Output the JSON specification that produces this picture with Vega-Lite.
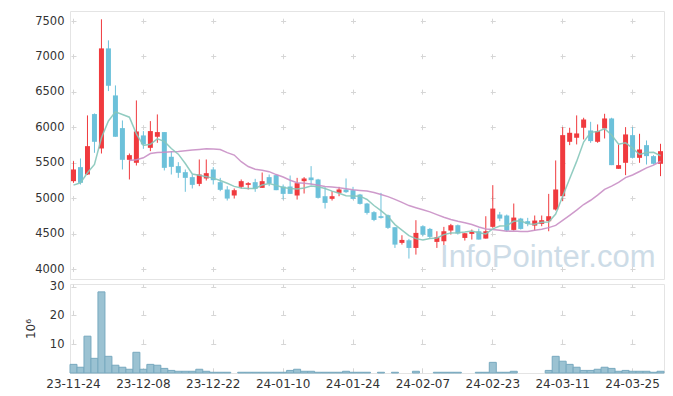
{
  "$schema": "https://vega.github.io/schema/vega-lite/v6.json",
  "padding": {"left": 23, "top": 10, "right": 10, "bottom": 5},
  "spacing": 0,
  "config": {
    "font": "DejaVu Sans",
    "view": {"stroke": "#e4e4e4"},
    "axis": {"labelFont": "DejaVu Sans", "labelColor": "#333333", "domain": false, "ticks": false, "gridColor": "#d6d6d6", "gridWidth": 1}
  },
  "datasets": {
    "d": [
      {"date":"23-11-24","open":5242,"high":5524,"low":5219,"close":5407,"vol":3.0,"ma5":5186,"ma20":null},
      {"date":"23-11-27","open":5440,"high":5562,"low":5195,"close":5219,"vol":2.0,"ma5":5219,"ma20":null},
      {"date":"23-11-28","open":5336,"high":6169,"low":5330,"close":5736,"vol":12.8,"ma5":5360,"ma20":null},
      {"date":"23-11-29","open":6188,"high":6197,"low":5642,"close":5797,"vol":5.1,"ma5":5477,"ma20":null},
      {"date":"23-11-30","open":5703,"high":7524,"low":5632,"close":7114,"vol":28.2,"ma5":5855,"ma20":null},
      {"date":"23-12-01","open":7114,"high":7227,"low":6512,"close":6587,"vol":5.8,"ma5":6091,"ma20":null},
      {"date":"23-12-04","open":6451,"high":6592,"low":5868,"close":5868,"vol":2.7,"ma5":6220,"ma20":null},
      {"date":"23-12-05","open":5990,"high":6098,"low":5407,"close":5543,"vol":2.0,"ma5":6182,"ma20":null},
      {"date":"23-12-06","open":5543,"high":5632,"low":5266,"close":5609,"vol":1.3,"ma5":6144,"ma20":5534},
      {"date":"23-12-07","open":5501,"high":6380,"low":5463,"close":5943,"vol":7.2,"ma5":5910,"ma20":5543},
      {"date":"23-12-08","open":5887,"high":5948,"low":5698,"close":5760,"vol":1.3,"ma5":5745,"ma20":5571},
      {"date":"23-12-11","open":5712,"high":6089,"low":5665,"close":5948,"vol":3.0,"ma5":5761,"ma20":5632},
      {"date":"23-12-12","open":5868,"high":6183,"low":5783,"close":5934,"vol":2.7,"ma5":5839,"ma20":5647},
      {"date":"23-12-13","open":5934,"high":5934,"low":5393,"close":5430,"vol":1.6,"ma5":5803,"ma20":5651},
      {"date":"23-12-14","open":5586,"high":5665,"low":5336,"close":5444,"vol":0.9,"ma5":5703,"ma20":5656},
      {"date":"23-12-15","open":5454,"high":5510,"low":5289,"close":5360,"vol":0.6,"ma5":5623,"ma20":5661},
      {"date":"23-12-18","open":5369,"high":5407,"low":5092,"close":5289,"vol":0.6,"ma5":5491,"ma20":5670},
      {"date":"23-12-19","open":5299,"high":5336,"low":5139,"close":5190,"vol":0.6,"ma5":5343,"ma20":5680},
      {"date":"23-12-20","open":5204,"high":5548,"low":5172,"close":5336,"vol":1.3,"ma5":5324,"ma20":5689},
      {"date":"23-12-21","open":5280,"high":5548,"low":5251,"close":5355,"vol":0.6,"ma5":5306,"ma20":5700},
      {"date":"23-12-22","open":5407,"high":5440,"low":5195,"close":5256,"vol":0.25,"ma5":5285,"ma20":5695},
      {"date":"23-12-26","open":5228,"high":5289,"low":5101,"close":5120,"vol":0.25,"ma5":5251,"ma20":5688},
      {"date":"23-12-27","open":5125,"high":5172,"low":4969,"close":4997,"vol":0.25,"ma5":5213,"ma20":5644},
      {"date":"23-12-28","open":5040,"high":5139,"low":4997,"close":5115,"vol":0,"ma5":5169,"ma20":5610},
      {"date":"24-01-02","open":5162,"high":5266,"low":5139,"close":5242,"vol":0.25,"ma5":5146,"ma20":5516},
      {"date":"24-01-03","open":5190,"high":5228,"low":5125,"close":5214,"vol":0.25,"ma5":5138,"ma20":5448},
      {"date":"24-01-04","open":5228,"high":5275,"low":5092,"close":5134,"vol":0.25,"ma5":5140,"ma20":5411},
      {"date":"24-01-05","open":5148,"high":5364,"low":5148,"close":5242,"vol":0.25,"ma5":5189,"ma20":5396},
      {"date":"24-01-08","open":5299,"high":5336,"low":5172,"close":5209,"vol":0.25,"ma5":5208,"ma20":5376},
      {"date":"24-01-09","open":5327,"high":5336,"low":5115,"close":5115,"vol":0.25,"ma5":5183,"ma20":5335},
      {"date":"24-01-10","open":5167,"high":5195,"low":4983,"close":5063,"vol":0.25,"ma5":5153,"ma20":5300},
      {"date":"24-01-11","open":5167,"high":5322,"low":5063,"close":5063,"vol":0.9,"ma5":5138,"ma20":5255},
      {"date":"24-01-12","open":5040,"high":5289,"low":4983,"close":5214,"vol":1.3,"ma5":5133,"ma20":5219},
      {"date":"24-01-15","open":5242,"high":5299,"low":5068,"close":5280,"vol":0.6,"ma5":5147,"ma20":5212},
      {"date":"24-01-16","open":5294,"high":5454,"low":5186,"close":5256,"vol":0.6,"ma5":5175,"ma20":5203},
      {"date":"24-01-17","open":5266,"high":5275,"low":4997,"close":5007,"vol":0.25,"ma5":5164,"ma20":5185},
      {"date":"24-01-18","open":5030,"high":5157,"low":4856,"close":4936,"vol":0.25,"ma5":5139,"ma20":5167},
      {"date":"24-01-19","open":4993,"high":5101,"low":4969,"close":5030,"vol":0.25,"ma5":5102,"ma20":5159},
      {"date":"24-01-22","open":5077,"high":5162,"low":5030,"close":5125,"vol":0.25,"ma5":5071,"ma20":5149},
      {"date":"24-01-23","open":5125,"high":5280,"low":5077,"close":5087,"vol":0.6,"ma5":5037,"ma20":5135},
      {"date":"24-01-24","open":5115,"high":5162,"low":4983,"close":4993,"vol":0.25,"ma5":5034,"ma20":5122},
      {"date":"24-01-25","open":5054,"high":5063,"low":4913,"close":4922,"vol":0.25,"ma5":5031,"ma20":5112},
      {"date":"24-01-26","open":4927,"high":4936,"low":4772,"close":4795,"vol":0.25,"ma5":4984,"ma20":5102},
      {"date":"24-01-29","open":4805,"high":4819,"low":4678,"close":4696,"vol":0,"ma5":4899,"ma20":5081},
      {"date":"24-01-30","open":4748,"high":5077,"low":4715,"close":4725,"vol":0.25,"ma5":4826,"ma20":5055},
      {"date":"24-01-31","open":4762,"high":4772,"low":4569,"close":4584,"vol":0,"ma5":4744,"ma20":5024},
      {"date":"24-02-01","open":4593,"high":4593,"low":4301,"close":4348,"vol":0.25,"ma5":4630,"ma20":4985},
      {"date":"24-02-02","open":4372,"high":4480,"low":4348,"close":4414,"vol":0,"ma5":4553,"ma20":4943},
      {"date":"24-02-05","open":4409,"high":4428,"low":4151,"close":4301,"vol":0,"ma5":4474,"ma20":4898},
      {"date":"24-02-06","open":4301,"high":4692,"low":4207,"close":4513,"vol":0.6,"ma5":4432,"ma20":4868},
      {"date":"24-02-07","open":4607,"high":4621,"low":4466,"close":4489,"vol":0,"ma5":4413,"ma20":4839},
      {"date":"24-02-08","open":4569,"high":4583,"low":4433,"close":4457,"vol":0,"ma5":4435,"ma20":4809},
      {"date":"24-02-13","open":4386,"high":4536,"low":4301,"close":4452,"vol":0.25,"ma5":4442,"ma20":4771},
      {"date":"24-02-14","open":4395,"high":4598,"low":4325,"close":4536,"vol":0.25,"ma5":4489,"ma20":4733},
      {"date":"24-02-15","open":4546,"high":4640,"low":4489,"close":4621,"vol":0.25,"ma5":4511,"ma20":4702},
      {"date":"24-02-16","open":4621,"high":4631,"low":4489,"close":4504,"vol":0.25,"ma5":4514,"ma20":4676},
      {"date":"24-02-19","open":4442,"high":4513,"low":4405,"close":4508,"vol":0,"ma5":4524,"ma20":4655},
      {"date":"24-02-20","open":4499,"high":4560,"low":4419,"close":4527,"vol":0,"ma5":4539,"ma20":4630},
      {"date":"24-02-21","open":4536,"high":4574,"low":4419,"close":4419,"vol":0.25,"ma5":4516,"ma20":4595},
      {"date":"24-02-22","open":4433,"high":4748,"low":4433,"close":4536,"vol":0.25,"ma5":4499,"ma20":4567},
      {"date":"24-02-23","open":4598,"high":5186,"low":4584,"close":4856,"vol":3.7,"ma5":4569,"ma20":4560},
      {"date":"24-02-26","open":4772,"high":4809,"low":4678,"close":4715,"vol":0.25,"ma5":4611,"ma20":4550},
      {"date":"24-02-27","open":4758,"high":4772,"low":4536,"close":4546,"vol":0.25,"ma5":4614,"ma20":4537},
      {"date":"24-02-28","open":4555,"high":4927,"low":4546,"close":4729,"vol":0.6,"ma5":4676,"ma20":4539},
      {"date":"24-02-29","open":4715,"high":4725,"low":4560,"close":4569,"vol":0,"ma5":4683,"ma20":4531},
      {"date":"24-03-04","open":4678,"high":4725,"low":4607,"close":4640,"vol":0,"ma5":4640,"ma20":4534},
      {"date":"24-03-05","open":4616,"high":4758,"low":4546,"close":4687,"vol":0,"ma5":4634,"ma20":4551},
      {"date":"24-03-06","open":4640,"high":4758,"low":4607,"close":4692,"vol":0,"ma5":4663,"ma20":4565},
      {"date":"24-03-07","open":4678,"high":5063,"low":4536,"close":4748,"vol":0.9,"ma5":4667,"ma20":4587},
      {"date":"24-03-08","open":4842,"high":5534,"low":4828,"close":5125,"vol":5.8,"ma5":4778,"ma20":4618},
      {"date":"24-03-11","open":5030,"high":6004,"low":4960,"close":5891,"vol":4.1,"ma5":5029,"ma20":4688},
      {"date":"24-03-12","open":5797,"high":5995,"low":5750,"close":5924,"vol":3.0,"ma5":5276,"ma20":4761},
      {"date":"24-03-13","open":5854,"high":6169,"low":5760,"close":5915,"vol":2.0,"ma5":5521,"ma20":4834},
      {"date":"24-03-14","open":5995,"high":6136,"low":5830,"close":6112,"vol":0.9,"ma5":5793,"ma20":4913},
      {"date":"24-03-15","open":5957,"high":6079,"low":5783,"close":5807,"vol":0.9,"ma5":5930,"ma20":4973},
      {"date":"24-03-18","open":5797,"high":6042,"low":5783,"close":5948,"vol":1.3,"ma5":5941,"ma20":5045},
      {"date":"24-03-19","open":5985,"high":6192,"low":5844,"close":6126,"vol":2.0,"ma5":5982,"ma20":5126},
      {"date":"24-03-20","open":6126,"high":6136,"low":5468,"close":5468,"vol":1.6,"ma5":5892,"ma20":5173},
      {"date":"24-03-21","open":5416,"high":5760,"low":5416,"close":5468,"vol":0.6,"ma5":5763,"ma20":5225},
      {"date":"24-03-22","open":5501,"high":6004,"low":5327,"close":5901,"vol":0.9,"ma5":5782,"ma20":5293},
      {"date":"24-03-25","open":5891,"high":6004,"low":5562,"close":5571,"vol":0.6,"ma5":5707,"ma20":5329},
      {"date":"24-03-26","open":5571,"high":5910,"low":5501,"close":5689,"vol":0.6,"ma5":5619,"ma20":5378},
      {"date":"24-03-27","open":5750,"high":5816,"low":5477,"close":5595,"vol":0.6,"ma5":5645,"ma20":5430},
      {"date":"24-03-28","open":5595,"high":5609,"low":5477,"close":5487,"vol":0.25,"ma5":5649,"ma20":5468},
      {"date":"24-03-29","open":5487,"high":5769,"low":5313,"close":5665,"vol":0.6,"ma5":5601,"ma20":5523}
    ]
  },
  "vconcat": [
    {
      "width": 594,
      "height": 268,
      "data": {"name": "d"},
      "encoding": {
        "x": {
          "field": "date", "type": "ordinal", "sort": null,
          "scale": {"paddingInner": 0, "paddingOuter": 0},
          "axis": {
            "orient": "top", "labels": false, "title": null,
            "values": ["23-11-24","23-12-08","23-12-22","24-01-10","24-01-24","24-02-07","24-02-23","24-03-11","24-03-25"],
            "grid": true, "bandPosition": 0.5, "gridDash": [5, 30.47], "gridDashOffset": 27.97
          }
        }
      },
      "layer": [
        {
          "mark": {"type": "rule", "strokeWidth": 1},
          "encoding": {
            "y": {
              "field": "low", "type": "quantitative",
              "scale": {"domain": [3863, 7641], "nice": false, "zero": false},
              "axis": {
                "title": null, "values": [4000,4500,5000,5500,6000,6500,7000,7500],
                "format": "d", "labelOverlap": false,
                "labelPadding": 6, "labelFontSize": 11.5,
                "grid": true, "gridDash": [5, 64.88], "gridDashOffset": 68.89
              }
            },
            "y2": {"field": "high"},
            "color": {"condition": {"test": "datum.close >= datum.open", "value": "#f03a3e"}, "value": "#6cc1da"}
          }
        },
        {
          "mark": {"type": "bar", "size": 5},
          "encoding": {
            "y": {"field": "open", "type": "quantitative", "axis": {
                "title": null, "values": [4000,4500,5000,5500,6000,6500,7000,7500],
                "format": "d", "labelOverlap": false,
                "labelPadding": 6, "labelFontSize": 11.5,
                "grid": true, "gridDash": [5, 64.88], "gridDashOffset": 68.89
              }},
            "y2": {"field": "close"},
            "color": {"condition": {"test": "datum.close >= datum.open", "value": "#f03a3e"}, "value": "#6cc1da"}
          }
        },
        {
          "mark": {"type": "line", "color": "#c98fc5", "strokeWidth": 1.5, "opacity": 0.9},
          "encoding": {"y": {"field": "ma20", "type": "quantitative", "axis": {
                "title": null, "values": [4000,4500,5000,5500,6000,6500,7000,7500],
                "format": "d", "labelOverlap": false,
                "labelPadding": 6, "labelFontSize": 11.5,
                "grid": true, "gridDash": [5, 64.88], "gridDashOffset": 68.89
              }}}
        },
        {
          "mark": {"type": "line", "color": "#86c7ba", "strokeWidth": 1.5, "opacity": 0.9},
          "encoding": {"y": {"field": "ma5", "type": "quantitative", "axis": {
                "title": null, "values": [4000,4500,5000,5500,6000,6500,7000,7500],
                "format": "d", "labelOverlap": false,
                "labelPadding": 6, "labelFontSize": 11.5,
                "grid": true, "gridDash": [5, 64.88], "gridDashOffset": 68.89
              }}}
        },
        {
          "data": {"values": [{}]},
          "mark": {"type": "text", "text": "InfoPointer.com", "font": "Liberation Sans", "fontSize": 31, "color": "#cddce7", "align": "right", "baseline": "alphabetic", "dx": -5, "dy": -2},
          "encoding": {
            "x": {"datum": "24-03-29", "type": "ordinal"},
            "y": {"datum": 4000, "type": "quantitative", "axis": {
                "title": null, "values": [4000,4500,5000,5500,6000,6500,7000,7500],
                "format": "d", "labelOverlap": false,
                "labelPadding": 6, "labelFontSize": 11.5,
                "grid": true, "gridDash": [5, 64.88], "gridDashOffset": 68.89
              }}
          }
        }
      ]
    },
    {
      "width": 594,
      "height": 89,
      "data": {"name": "d"},
      "mark": {"type": "bar", "width": {"band": 1}, "fill": "#9bc2d2", "strokeWidth": 1},
      "encoding": {
        "x": {
          "field": "date", "type": "ordinal", "sort": null,
          "scale": {"paddingInner": 0, "paddingOuter": 0},
          "axis": {
            "title": null, "labelAngle": 0, "labelPadding": 5, "labelFontSize": 12,
            "labelFlush": false, "labelOverlap": false,
            "values": ["23-11-24","23-12-08","23-12-22","24-01-10","24-01-24","24-02-07","24-02-23","24-03-11","24-03-25"],
            "grid": true, "bandPosition": 0.5, "gridDash": [5, 23.77], "gridDashOffset": 2.5
          }
        },
        "y": {
          "field": "vol", "type": "quantitative",
          "scale": {"domain": [0, 30.94], "nice": false},
          "axis": {
            "values": [10, 20, 30], "title": "10⁶", "titlePadding": 12, "titleFontWeight": "normal",
            "titleFontSize": 12, "titleColor": "#333333", "titleFont": "DejaVu Sans",
            "labelPadding": 6, "labelFontSize": 11.5, "labelOverlap": false,
            "grid": true, "gridDash": [5, 64.88], "gridDashOffset": 68.89
          }
        },
        "stroke": {"condition": {"test": "datum.vol > 0", "value": "#78a9bf"}, "value": "transparent"}
      }
    }
  ]
}
